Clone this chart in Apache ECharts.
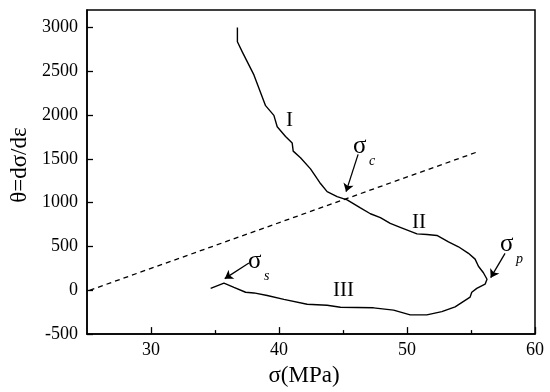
<!DOCTYPE html>
<html>
<head>
<meta charset="utf-8">
<script src="https://cdn.jsdelivr.net/npm/echarts@6/dist/echarts.min.js"></script>
<style>html,body{margin:0;padding:0;background:#fff}#c{width:550px;height:392px}</style>
</head>
<body>
<div id="c"></div>
<script>
// Main curve: sigma (MPa) and theta = dσ/dε, in drawing order
var sigma = [36.75,36.75,37.14,38.04,38.95,39.60,39.86,40.51,41.03,41.11,41.68,42.46,42.98,43.24,43.76,44.54,45.32,46.36,47.14,47.92,48.69,49.47,50.78,51.56,52.34,53.24,54.02,54.80,55.32,55.58,55.97,56.25,56.10,55.45,55.06,54.93,53.76,52.72,51.55,50.25,48.95,47.39,44.80,43.76,42.20,40.38,39.08,38.04,37.39,36.48,35.70,34.66];
var theta = [3000,2837,2719,2459,2108,1997,1867,1756,1681,1589,1514,1386,1274,1219,1126,1070,1033,941,874,830,763,719,644,637,626,552,497,422,356,274,200,126,70,22,-22,-78,-189,-244,-281,-281,-226,-200,-194,-170,-159,-103,-59,-30,-22,33,81,22];
// Dashed reference line endpoints
var dashSigma = [25.2, 55.5];
var dashTheta = [0, 1580];
// Arrows (from -> to)
var arrowFrom = [[46.18,1552],[37.65,311],[57.66,422]];
var arrowTo   = [[45.24,1126],[35.76,133],[56.54,144]];
// Axis ticks
var xMajor = [30,40,50,60];
var xMinor = [35,45,55];
var yTicks = [-500,0,500,1000,1500,2000,2500,3000];

var curve = sigma.map(function(s,i){return [s, theta[i]];});
var dash = dashSigma.map(function(s,i){return [s, dashTheta[i]];});
var arrows = arrowFrom.map(function(f,i){return {coords:[f, arrowTo[i]]};});

var serif = 'Liberation Serif';
var chart = echarts.init(document.getElementById('c'));
function sym(x,y,main,sub){
  return [
    {type:'text', left:x-8, top:y-17, style:{text:main, font:'25px "Liberation Serif"', fill:'#000'}},
    {type:'text', left:x+8, top:y+3, style:{text:sub, font:'italic 14px "Liberation Serif"', fill:'#000'}}
  ];
}
var graphics = [
  {type:'text', left:286, top:110, style:{text:'I', font:'21px "Liberation Serif"', fill:'#000'}},
  {type:'text', left:412, top:212, style:{text:'II', font:'21px "Liberation Serif"', fill:'#000'}},
  {type:'text', left:333, top:280, style:{text:'III', font:'21px "Liberation Serif"', fill:'#000'}}
].concat(sym(361,151,'σ','c'), sym(508,249,'σ','p'), sym(256,266,'σ','s'));

function plain(v){ return String(v); }

chart.setOption({
  animation:false,
  backgroundColor:'#fff',
  grid:{left:86, right:15, top:10, bottom:48, show:true, borderColor:'#000', borderWidth:1.5, backgroundColor:'transparent'},
  xAxis:[{
    type:'value', min:25, max:60, interval:5, position:'bottom',
    name:'σ(MPa)', nameLocation:'middle', nameGap:24,
    nameTextStyle:{fontFamily:serif, fontSize:23, color:'#000', padding:[0,14,0,0]},
    axisLine:{onZero:false, lineStyle:{color:'#000', width:1.5}},
    axisTick:{inside:true, length:7, customValues:xMajor, lineStyle:{color:'#000', width:1.3}},
    axisLabel:{customValues:xMajor, formatter:plain, fontFamily:serif, fontSize:18, color:'#000', margin:7},
    splitLine:{show:false}
  },{
    type:'value', min:25, max:60, interval:5, position:'bottom',
    axisLine:{show:false, onZero:false},
    axisTick:{inside:true, length:4, customValues:xMinor, lineStyle:{color:'#000', width:1.3}},
    axisLabel:{show:false},
    splitLine:{show:false}
  }],
  yAxis:{
    type:'value', min:-500, max:3200, interval:500,
    name:'θ=dσ/dε', nameLocation:'middle', nameGap:56,
    nameTextStyle:{fontFamily:serif, fontSize:23, color:'#000', padding:[0,0,0,14]},
    axisLine:{onZero:false, lineStyle:{color:'#000', width:1.5}},
    axisTick:{inside:true, length:6, customValues:yTicks, lineStyle:{color:'#000', width:1.3}},
    axisLabel:{customValues:yTicks, formatter:plain, fontFamily:serif, fontSize:18, color:'#000', margin:9},
    splitLine:{show:false}
  },
  series:[
    {type:'line', xAxisIndex:0, data:curve, showSymbol:false, symbol:'none', lineStyle:{color:'#000', width:1.4}},
    {type:'line', xAxisIndex:0, data:dash, showSymbol:false, symbol:'none', lineStyle:{color:'#000', width:1.3, type:[5,4]}},
    {type:'lines', coordinateSystem:'cartesian2d', xAxisIndex:0, data:arrows, symbol:['none','arrow'], symbolSize:8, lineStyle:{color:'#000', width:1.3, opacity:1}}
  ],
  graphic:graphics
});
</script>
</body>
</html>
